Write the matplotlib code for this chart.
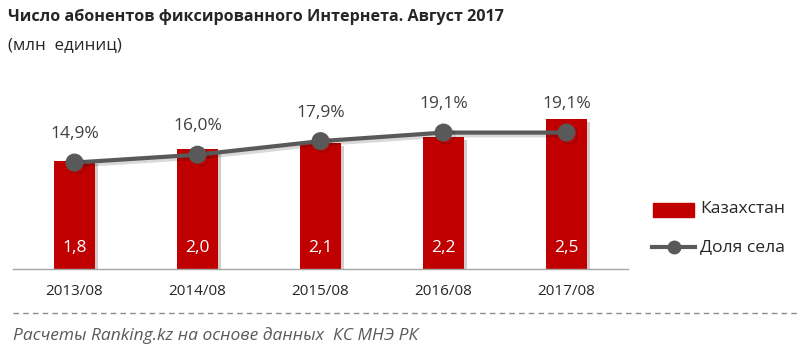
import matplotlib
matplotlib.use("Agg")
import matplotlib.pyplot as plt
from matplotlib.lines import Line2D
from matplotlib.patches import Rectangle
import matplotlib.patheffects as pe

categories = ["2013/08", "2014/08", "2015/08", "2016/08", "2017/08"]
subscribers = [1.8, 2.0, 2.1, 2.2, 2.5]
rural_share = [14.9, 16.0, 17.9, 19.1, 19.1]
subscriber_labels = ["1,8", "2,0", "2,1", "2,2", "2,5"]
share_labels = ["14,9%", "16,0%", "17,9%", "19,1%", "19,1%"]

title = "Число абонентов фиксированного Интернета. Август 2017"
subtitle = "(млн  единиц)"
source = "Расчеты Ranking.kz на основе данных  КС МНЭ РК"
legend_labels = ["Казахстан", "Доля села"]

FONT = ["Open Sans", "DejaVu Sans"]
plt.rcParams["font.family"] = FONT

RED = "#C00000"
GREY = "#595959"
TXT = "#404040"

fig = plt.figure(figsize=(8.0, 3.59), dpi=100)
W, H = 800, 359

def fx(px):
    return px / W

def fy(py):
    return 1 - py / H

ax = fig.add_axes([fx(13), fy(269), fx(615), 180 / H])
x = list(range(len(categories)))
bars = ax.bar(x, subscribers, width=0.33, color=RED, zorder=2,
              path_effects=[pe.SimplePatchShadow(offset=(2, -2), alpha=0.2), pe.Normal()])
ax.set_xlim(-0.5, len(categories) - 0.5)
ax.set_ylim(0, 3.0)
for spine in ["top", "right", "left"]:
    ax.spines[spine].set_visible(False)
ax.spines["bottom"].set_color("#A6A6A6")
ax.spines["bottom"].set_linewidth(1.0)
ax.set_yticks([])
ax.set_xticks(x)
ax.set_xticklabels(categories, fontsize=11, color="#262626")
ax.tick_params(axis="x", length=0, pad=11)

for xi, lab in zip(x, subscriber_labels):
    ax.text(xi, 0.35, lab, ha="center", va="center", color="white", fontsize=12.5)

ax2 = ax.twinx()
ax2.set_ylim(0, 25.2)
ax2.plot(x, rural_share, color=GREY, lw=3, marker="o", ms=12, zorder=3,
         path_effects=[pe.SimpleLineShadow(offset=(2, -2), alpha=0.15), pe.Normal()])
for spine in ax2.spines.values():
    spine.set_visible(False)
ax2.set_yticks([])
for xi, v, lab in zip(x, rural_share, share_labels):
    ax2.text(xi, v + 4.0, lab, ha="center", va="center", color=TXT, fontsize=12.5)

# title
fig.text(fx(8), fy(17), title, ha="left", va="center", fontsize=11.6,
         fontweight="bold", color="#262626")
fig.text(fx(8), fy(45), subtitle, ha="left", va="center", fontsize=12.2,
         color="#262626")

# legend
fig.patches.append(Rectangle((fx(653), fy(217)), fx(41), 14 / H,
                             transform=fig.transFigure, color=RED))
fig.text(fx(700), fy(209), legend_labels[0], ha="left", va="center", fontsize=12.6, color="#262626")
fig.lines.append(Line2D([fx(652), fx(695)], [fy(247), fy(247)], transform=fig.transFigure,
                        color=GREY, lw=3))
fig.lines.append(Line2D([fx(673.5)], [fy(247)], transform=fig.transFigure,
                        color=GREY, marker="o", ms=9))
fig.text(fx(700), fy(247), legend_labels[1], ha="left", va="center", fontsize=12.6, color="#262626")

# dashed separator and source
fig.lines.append(Line2D([fx(13), fx(800)], [fy(313), fy(313)], transform=fig.transFigure,
                        color="#8C8C8C", lw=1, ls=(0, (4, 3))))
fig.text(fx(13), fy(336), source, ha="left", va="center", fontsize=12.5,
         style="italic", color="#595959")

fig.savefig("out.png", dpi=100)
